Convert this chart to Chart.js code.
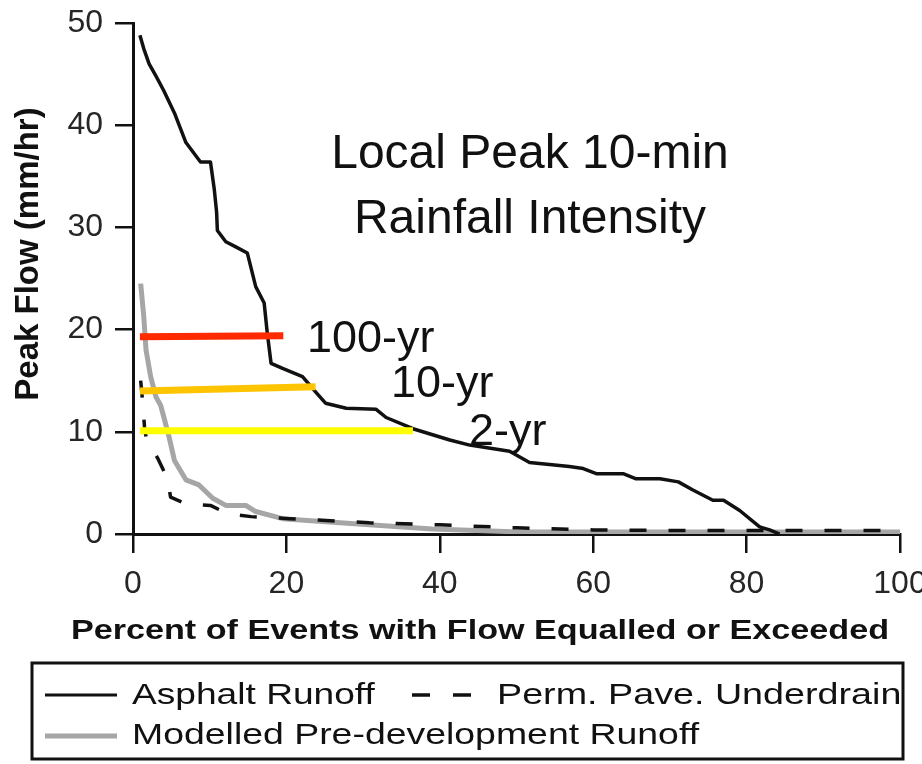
<!DOCTYPE html>
<html>
<head>
<meta charset="utf-8">
<title>Peak flow exceedance</title>
<script src="https://cdn.jsdelivr.net/npm/chart.js@4.4.1/dist/chart.umd.min.js"></script>
<style>
  html, body { margin: 0; padding: 0; background: #fff; }
  #wrap { width: 922px; height: 764px; }
</style>
</head>
<body>
<div id="wrap"><canvas id="chart" width="922" height="764"></canvas></div>
<script>
// x: percent of events with flow equalled or exceeded, y: peak flow (mm/hr)
const asphaltPct = [0.9, 1.4, 2.1, 3.0, 4.0, 5.4, 6.9, 8.8, 10.1, 10.6, 10.9, 11.0, 12.1, 13.4, 14.9, 16.0, 17.1, 17.5, 18.0, 19.5, 22.1, 23.8, 25.1, 27.8, 31.7, 33.0, 36.5, 41.3, 43.9, 49.1, 51.7, 56.9, 58.7, 60.4, 63.9, 65.6, 68.7, 71.1, 73.0, 75.6, 77.0, 79.1, 81.7, 83.0, 84.3];
const asphaltFlow = [48.8, 47.5, 46.0, 44.8, 43.4, 41.2, 38.3, 36.4, 36.4, 33.7, 31.5, 29.7, 28.6, 28.1, 27.5, 24.2, 22.6, 19.7, 16.7, 16.2, 15.4, 13.9, 12.8, 12.3, 12.2, 11.4, 10.3, 9.2, 8.7, 8.1, 7.0, 6.6, 6.4, 5.9, 5.9, 5.4, 5.4, 5.1, 4.3, 3.3, 3.3, 2.3, 0.7, 0.4, 0];

const underdrainPct = [1.0, 1.2, 1.5, 1.7, 3.3, 4.5, 4.9, 7.1, 10.1, 12.3, 15.4, 20.4, 30.8, 40, 50, 60, 70, 100];
const underdrainFlow = [15.0, 13.4, 10.5, 9.5, 7.3, 5.4, 3.6, 2.9, 2.8, 2.0, 1.7, 1.5, 1.1, 0.9, 0.6, 0.4, 0.35, 0.35];

const predevPct = [1.0, 1.4, 1.7, 2.3, 3.0, 3.6, 4.0, 4.7, 5.4, 6.9, 8.6, 10.4, 12.1, 14.7, 16.0, 19.5, 25.1, 30.8, 39.0, 50.4, 100];
const predevFlow = [24.5, 21.3, 18.0, 15.4, 13.4, 12.6, 11.5, 9.5, 7.2, 5.3, 4.8, 3.5, 2.8, 2.8, 2.2, 1.5, 1.2, 0.9, 0.5, 0.2, 0.2];

// local peak 10-min rainfall intensity for each return period
const stormLabels = ["100-yr", "10-yr", "2-yr"];
const stormColors = ["#ff2a00", "#ffc400", "#ffff00"];
const stormStartPct = [0.9, 0.9, 0.9];
const stormEndPct = [19.6, 23.8, 36.5];
const stormStartFlow = [19.3, 14.0, 10.1];
const stormEndFlow = [19.4, 14.4, 10.1];

const xTicks = [0, 20, 40, 60, 80, 100];
const yTicks = [0, 10, 20, 30, 40, 50];

const FONT = '"Liberation Sans", Arial, Helvetica, sans-serif';
const INK = "#111";

const zip = (xs, ys) => xs.map((x, i) => ({ x, y: ys[i] }));

const stormSets = stormLabels.map((label, i) => ({
  label,
  data: zip([stormStartPct[i], stormEndPct[i]], [stormStartFlow[i], stormEndFlow[i]]),
  borderColor: stormColors[i],
  borderWidth: 7,
  borderCapStyle: "butt",
  order: 0,
}));

// text drawn onto the canvas, widened a little like the original figure lettering
function putText(ctx, text, x, y, font, sx, align) {
  ctx.save();
  ctx.font = font;
  ctx.fillStyle = INK;
  ctx.textAlign = align || "left";
  ctx.textBaseline = "alphabetic";
  ctx.translate(x, y);
  ctx.scale(sx, 1);
  ctx.fillText(text, 0, 0);
  ctx.restore();
}

const figureText = {
  id: "figureText",
  afterDraw(chart) {
    const ctx = chart.ctx;

    // axis titles
    putText(ctx, "Percent of Events with Flow Equalled or Exceeded", 480, 639, "bold 28px " + FONT, 1.22, "center");
    ctx.save();
    ctx.translate(38, 254);
    ctx.rotate(-Math.PI / 2);
    putText(ctx, "Peak Flow (mm/hr)", 0, 0, "bold 33px " + FONT, 1, "center");
    ctx.restore();

    // panel annotations
    putText(ctx, "Local Peak 10-min", 530, 168, "48px " + FONT, 1, "center");
    putText(ctx, "Rainfall Intensity", 530, 233, "48px " + FONT, 1, "center");
    putText(ctx, stormLabels[0], 307, 352, "45px " + FONT, 1);
    putText(ctx, stormLabels[1], 391, 397, "45px " + FONT, 1);
    putText(ctx, stormLabels[2], 469, 445, "45px " + FONT, 1);

    // legend box
    ctx.save();
    ctx.strokeStyle = INK;
    ctx.lineWidth = 3;
    ctx.strokeRect(32, 663, 871, 96);

    ctx.lineWidth = 3;
    ctx.beginPath();
    ctx.moveTo(45, 695);
    ctx.lineTo(117, 695);
    ctx.stroke();

    ctx.lineWidth = 3.5;
    ctx.setLineDash([18, 23]);
    ctx.beginPath();
    ctx.moveTo(412, 695);
    ctx.lineTo(471, 695);
    ctx.stroke();
    ctx.setLineDash([]);

    ctx.strokeStyle = "#a6a6a6";
    ctx.lineWidth = 5;
    ctx.beginPath();
    ctx.moveTo(45, 736);
    ctx.lineTo(117, 736);
    ctx.stroke();
    ctx.restore();

    const legendFont = "29px " + FONT;
    putText(ctx, "Asphalt Runoff", 132, 704, legendFont, 1.28);
    putText(ctx, "Perm. Pave. Underdrain", 497, 704, legendFont, 1.3);
    putText(ctx, "Modelled Pre-development Runoff", 132, 744, legendFont, 1.29);
  },
};

new Chart(document.getElementById("chart"), {
  type: "line",
  data: {
    datasets: [
      ...stormSets,
      {
        label: "Asphalt Runoff",
        data: zip(asphaltPct, asphaltFlow),
        borderColor: INK,
        borderWidth: 3.5,
        order: 1,
      },
      {
        label: "Perm. Pave. Underdrain",
        data: zip(underdrainPct, underdrainFlow),
        borderColor: INK,
        borderWidth: 3.5,
        borderDash: [17, 22],
        order: 2,
      },
      {
        label: "Modelled Pre-development Runoff",
        data: zip(predevPct, predevFlow),
        borderColor: "#a6a6a6",
        borderWidth: 5,
        order: 3,
      },
    ],
  },
  options: {
    responsive: false,
    animation: false,
    elements: {
      point: { radius: 0 },
      line: { tension: 0, borderJoinStyle: "round" },
    },
    layout: { padding: { top: 23, right: 22, bottom: 160, left: 0 } },
    plugins: {
      legend: { display: false },
      tooltip: { enabled: false },
    },
    scales: {
      x: {
        type: "linear",
        min: 0,
        max: 100,
        afterBuildTicks: (s) => { s.ticks = xTicks.map((v) => ({ value: v })); },
        afterFit: (s) => { s.height = 70; s.paddingLeft = 0; s.paddingRight = 0; },
        ticks: { color: "#262626", font: { family: FONT, size: 32 }, padding: 12, maxRotation: 0 },
        grid: { drawOnChartArea: false, drawTicks: true, tickLength: 19, color: INK, lineWidth: 2.5 },
        border: { display: true, color: INK, width: 3 },
      },
      y: {
        min: 0,
        max: 50,
        afterBuildTicks: (s) => { s.ticks = yTicks.map((v) => ({ value: v })); },
        afterFit: (s) => { s.width = 133; s.paddingTop = 0; s.paddingBottom = 0; },
        ticks: { color: "#262626", font: { family: FONT, size: 32 }, padding: 12 },
        grid: { drawOnChartArea: false, drawTicks: true, tickLength: 18, color: INK, lineWidth: 2.5 },
        border: { display: true, color: INK, width: 3 },
      },
    },
  },
  plugins: [figureText],
});
</script>
</body>
</html>
